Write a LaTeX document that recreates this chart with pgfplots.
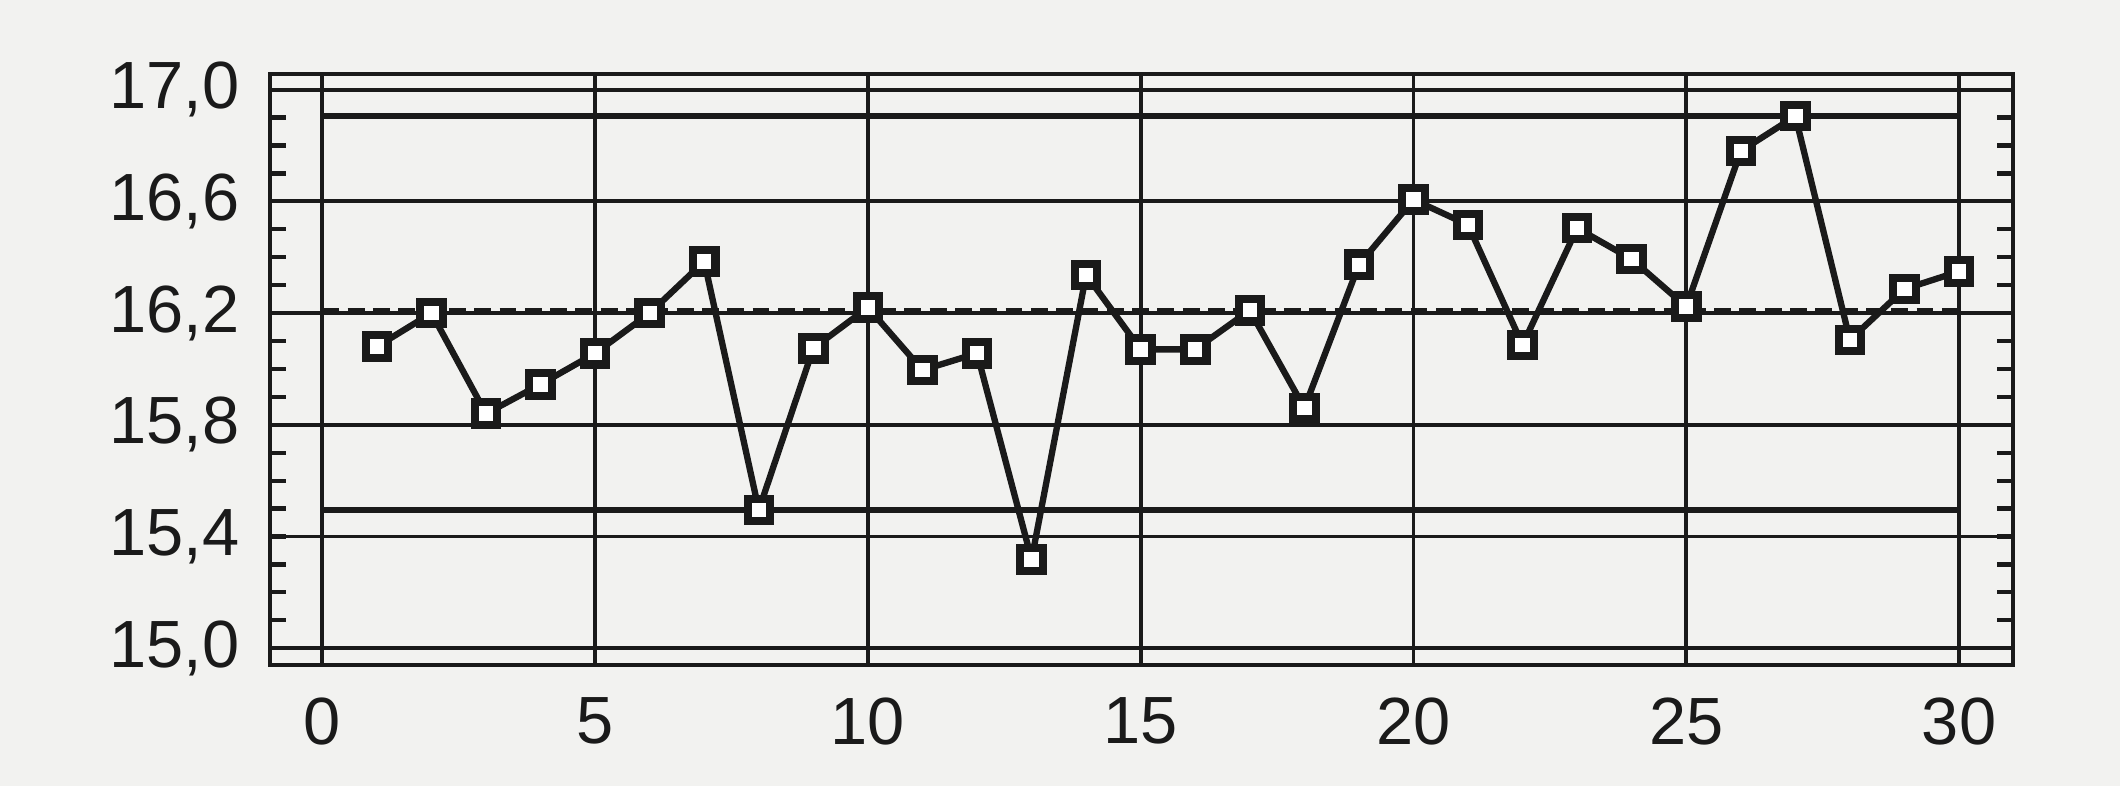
\documentclass[border=0pt]{standalone}
\usepackage{fontspec}
\setmainfont{Liberation Sans}
\usepackage{pgfplots}
\pgfplotsset{compat=1.18}
\definecolor{ink}{RGB}{26,26,26}
\definecolor{paper}{RGB}{242,242,240}
\begin{document}
\begin{tikzpicture}
\path[use as bounding box, fill=paper] (-2.70cm,-1.21cm) rectangle (18.50cm,6.65cm);
\begin{axis}[
  at={(0,0)}, anchor=south west,
  scale only axis, width=17.43cm, height=5.91cm,
  xmin=-0.96, xmax=30.99, ymin=14.94, ymax=17.056,
  xtick={0,5,10,15,20,25,30},
  ytick={15.0,15.4,15.8,16.2,16.6,17.0},
  minor ytick={15.1,15.2,15.3,15.5,15.6,15.7,15.9,16.0,16.1,16.3,16.4,16.5,16.7,16.8,16.9},
  grid=major,
  grid style={line width=1.1pt, draw=ink},
  axis line style={line width=1.3pt, draw=ink},
  xtick style={draw=none},
  ytick style={line width=1.2pt, draw=ink},
  minor y tick style={line width=1.2pt, draw=ink},
  major tick length=0.156cm, minor tick length=0.156cm,
  tick align=inside,
  /pgf/number format/assume math mode=true,
  ticklabel style={font=\fontsize{19}{23}\selectfont, text=ink},
  xticklabel style={yshift=-0.20cm},
  yticklabel style={xshift=-0.18cm, /pgf/number format/use comma, /pgf/number format/fixed, /pgf/number format/fixed zerofill, /pgf/number format/precision=1},
]
% control limits
\addplot[line width=1.6pt, draw=ink] coordinates {(0,16.905) (30,16.905)};
\addplot[line width=1.6pt, draw=ink] coordinates {(0,15.495) (30,15.495)};
\addplot[line width=1.1pt, draw=ink, dash pattern=on 4.8pt off 2.4pt] coordinates {(0,16.212) (30,16.212)};
% individuals
\addplot[line width=1.8pt, draw=ink, mark=square*, mark size=3.2pt,
  mark options={solid, fill=white, draw=ink, line width=2.3pt}] coordinates {
(1,16.08) (2,16.20) (3,15.84) (4,15.945) (5,16.056) (6,16.20) (7,16.385)
(8,15.495) (9,16.074) (10,16.22) (11,15.996) (12,16.056) (13,15.318)
(14,16.337) (15,16.07) (16,16.07) (17,16.21) (18,15.86) (19,16.373)
(20,16.606) (21,16.516) (22,16.086) (23,16.504) (24,16.393) (25,16.223)
(26,16.78) (27,16.905) (28,16.104) (29,16.286) (30,16.349)
};
\end{axis}
\end{tikzpicture}
\end{document}
